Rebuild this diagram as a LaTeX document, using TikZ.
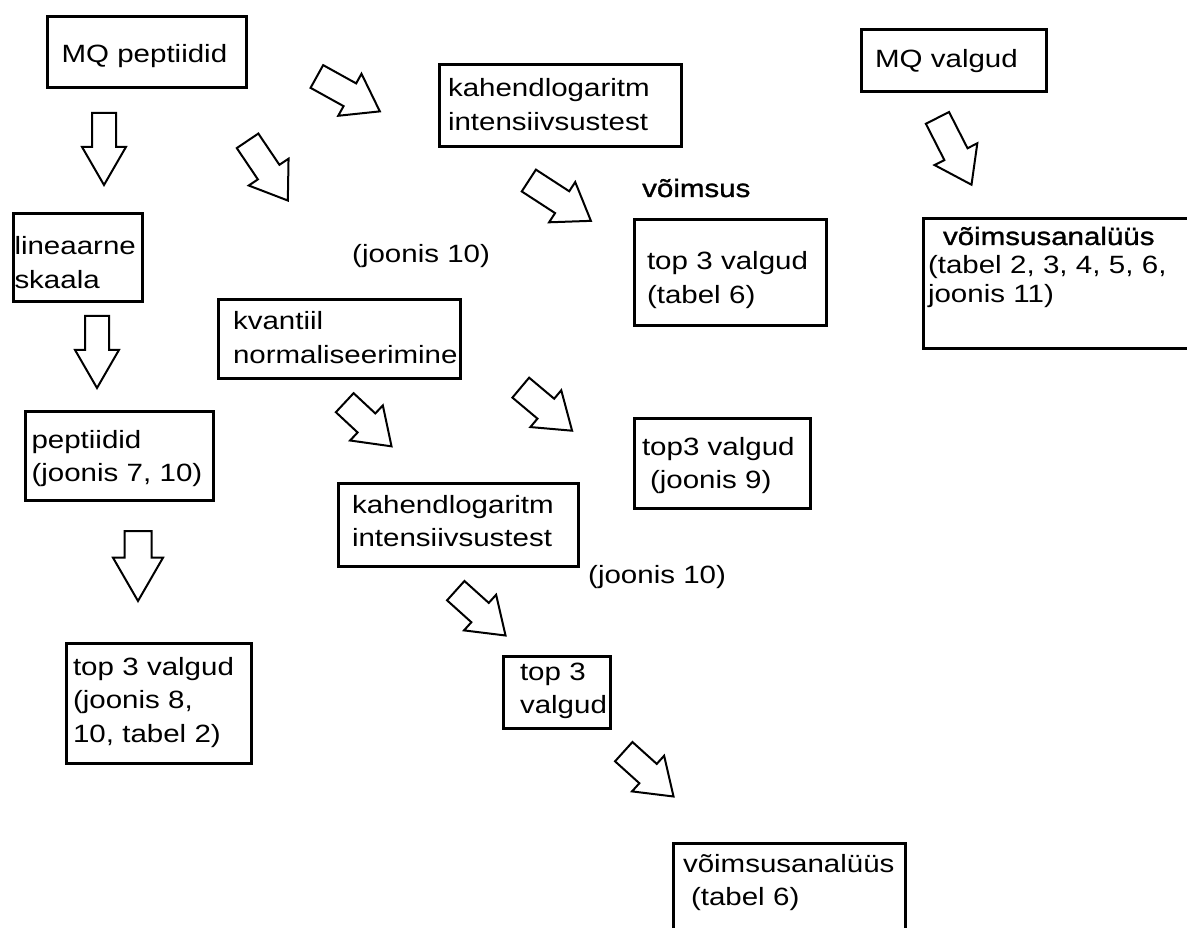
\documentclass[tikz,border=0pt]{standalone}
\usepackage{fontspec}
\setmainfont{Liberation Sans}[FakeStretch=1.18]
\newfontfamily\heavyfont{Liberation Sans}[FakeStretch=1.18,FakeBold=1.2]
\usetikzlibrary{shapes.arrows}
\hyphenpenalty=10000

\begin{document}
\begin{tikzpicture}[x=1pt, y=-1pt,
    box/.style={
      draw,
      line width=3pt,
      anchor=north west,
      align=left,
      inner ysep=0pt
    },
    note/.style={anchor=base west, inner sep=0pt},
    blockarrow/.style={
      single arrow,
      draw,
      line width=2pt,
      anchor=tail,
      inner xsep=0pt
    },
    downarrow/.style={
      blockarrow,
      inner ysep=11pt,
      minimum width=42pt,
      single arrow head extend=10pt,
      single arrow tip angle=60
    },
    slantarrow/.style={
      blockarrow,
      inner ysep=12pt,
      minimum width=46pt,
      single arrow head extend=11pt,
      single arrow tip angle=70
    },
    every node/.style={font=\fontsize{25}{33.5}\selectfont}
  ]
  \useasboundingbox (0,0) rectangle (1187,928);

  \node[box, inner xsep=14pt, text width=171pt, text height=46.5pt, text depth=24.5pt] (mqpep) at (46,15) {MQ peptiidid};
  \node[box, inner xsep=1pt, text width=127pt, text height=41.5pt, text depth=46.5pt] (lin) at (12,212) {lineaarne\\skaala};
  \node[box, inner xsep=6pt, text width=176pt, text height=36.5pt, text depth=52.5pt] (pep) at (24,410) {peptiidid\\(joonis 7, 10)};
  \node[box, inner xsep=6.5pt, text width=172pt, text height=31.5pt, text depth=88.5pt] (toplin) at (65,642) {top 3 valgud\\(joonis 8,\\10, tabel 2)};

  \node[box, inner xsep=8.5pt, text width=225pt, text height=32.5pt, text depth=49.5pt] (logA) at (438,63) {kahendlogaritm\\intensiivsustest};
  \node[note] (voimsus) at (642,197) {\heavyfont võimsus};
  \node[box, inner xsep=12.5pt, text width=167pt, text height=50.5pt, text depth=55.5pt] (toplog) at (633,218) {top 3 valgud\\(tabel 6)};
  \node[note] (joonisA) at (352,263) {(joonis 10)};

  \node[box, inner xsep=13.5pt, text width=158pt, text height=38.5pt, text depth=23.5pt] (mqval) at (860,28) {MQ valgud};
  \node[box, inner xsep=4.5pt, text width=360pt, text height=26.5pt, text depth=103.5pt, font=\fontsize{25}{29}\selectfont] (voimA) at (922,217) {\hspace*{15pt}{\heavyfont võimsusanalüüs}\\(tabel 2, 3, 4, 5, 6,\\joonis 11)};

  \node[box, inner xsep=14.5pt, text width=213pt, text height=30.5pt, text depth=48.5pt] (kvant) at (217,298) {kvantiil\\normaliseerimine};
  \node[box, inner xsep=7.5pt, text width=161pt, text height=36.5pt, text depth=53.5pt] (topkv) at (633,417) {top3 valgud\\\hspace*{8pt}(joonis 9)};
  \node[box, inner xsep=13.5pt, text width=213pt, text height=29.5pt, text depth=53.5pt] (logB) at (337,482) {kahendlogaritm\\intensiivsustest};
  \node[note] (joonisB) at (588,583) {(joonis 10)};
  \node[box, inner xsep=16.5pt, text width=74pt, text height=23.5pt, text depth=48.5pt] (topB) at (502,655) {top 3\\valgud};
  \node[box, inner xsep=9.5pt, text width=213pt, text height=28.5pt, text depth=86.5pt] (voimB) at (672,842) {võimsusanalüüs\\\hspace*{8pt}(tabel 6)};

  \node[downarrow, rotate=-90, minimum height=72pt] (a1) at (104,112) {};
  \node[downarrow, rotate=-90, minimum height=72pt] (a2) at (97,315) {};
  \node[downarrow, rotate=-90, minimum height=70pt, inner ysep=12.5pt, minimum width=48pt, single arrow head extend=11.5pt] (a3) at (138,530) {};
  \node[slantarrow, rotate=-56, minimum height=72pt] (d1) at (247,140) {};
  \node[slantarrow, rotate=-29, minimum height=72pt] (d2) at (316,76) {};
  \node[slantarrow, rotate=-33, minimum height=74pt] (d3) at (528,180) {};
  \node[slantarrow, rotate=-63, minimum height=75pt] (d4) at (937,117) {};
  \node[slantarrow, rotate=-43, minimum height=64pt] (d5) at (344,402) {};
  \node[slantarrow, rotate=-40, minimum height=67pt] (d6) at (520,387) {};
  \node[slantarrow, rotate=-42, minimum height=67pt] (d7) at (455,590) {};
  \node[slantarrow, rotate=-42, minimum height=67pt] (d8) at (623,751) {};
\end{tikzpicture}
\end{document}
